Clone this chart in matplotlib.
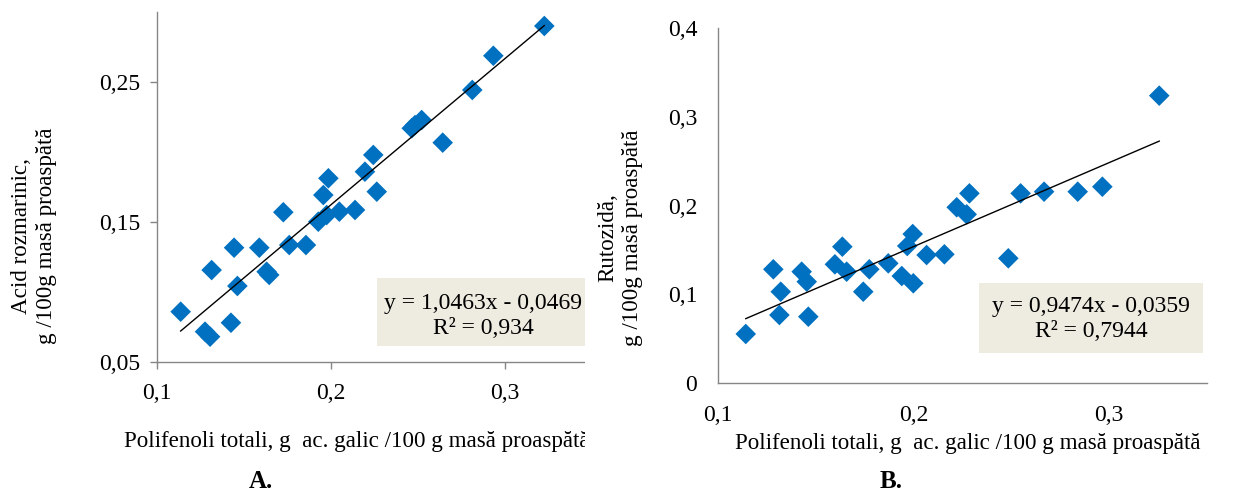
import numpy as np
import matplotlib
matplotlib.use("Agg")
import matplotlib.pyplot as plt
from matplotlib.patches import Rectangle
from matplotlib.transforms import Bbox, TransformedBbox

# ------------------- date -------------------
# A: polifenoli totali vs acid rozmarinic
x_a = [0.1136, 0.1276, 0.1305, 0.1314, 0.1425, 0.1443, 0.1462, 0.1588, 0.1630, 0.1645,
       0.1726, 0.1760, 0.1856, 0.1927, 0.1956, 0.1985, 0.1975, 0.2048, 0.2138, 0.2195,
       0.2243, 0.2263, 0.2464, 0.2521, 0.2483, 0.2642, 0.2812, 0.2933, 0.3226]
y_a = [0.0858, 0.0715, 0.0679, 0.1156, 0.0779, 0.1316, 0.1042, 0.1316, 0.1144, 0.1121,
       0.1570, 0.1335, 0.1335, 0.1502, 0.1693, 0.1813, 0.1550, 0.1574, 0.1586, 0.1860,
       0.1980, 0.1717, 0.2171, 0.2230, 0.2194, 0.2068, 0.2445, 0.2690, 0.2903]
slope_a, icpt_a = 1.0463, -0.0469
eq_a = "y = 1,0463x - 0,0469\nR² = 0,934"

# B: polifenoli totali vs rutozida
x_b = [0.1142, 0.1283, 0.1321, 0.1314, 0.1428, 0.1454, 0.1462, 0.1598, 0.1636, 0.1658,
       0.1743, 0.1774, 0.1871, 0.1940, 0.1999, 0.1968, 0.1996, 0.2067, 0.2158, 0.2221,
       0.2272, 0.2286, 0.2485, 0.2548, 0.2668, 0.2840, 0.2966, 0.3257]
y_b = [0.055, 0.128, 0.1027, 0.0764, 0.1253, 0.1140, 0.0745, 0.1336, 0.1535, 0.1253,
       0.1027, 0.1280, 0.1347, 0.1204, 0.1122, 0.1543, 0.1678, 0.1441, 0.1449, 0.1980,
       0.1900, 0.2137, 0.1404, 0.2137, 0.2156, 0.2156, 0.2212, 0.3240]
slope_b, icpt_b = 0.9474, -0.0359
eq_b = "y = 0,9474x - 0,0359\nR² = 0,7944"

xticks = [0.1, 0.2, 0.3]
yticks_a = [0.05, 0.15, 0.25]
yticks_b = [0, 0.1, 0.2, 0.3, 0.4]
xlabel = "Polifenoli totali, g  ac. galic /100 g masă proaspătă"
ylabel_a = "Acid rozmarinic,\ng /100g masă proaspătă"
ylabel_b = "Rutozidă,\ng /100g masă proaspătă"

# ------------------- stil -------------------
plt.rcParams["font.family"] = ["Liberation Serif", "DejaVu Serif"]
blue = "#0070C0"
gray = "#868686"
box_col = "#EEECE1"
fs = 17      # etichete axe / ecuatii
fs_lab = 16.6

W, H = 1243, 491
fig = plt.figure(figsize=(W / 100, H / 100), dpi=100)


def px_axes(l, r, t, b):
    return fig.add_axes([l / W, 1 - b / H, (r - l) / W, (b - t) / H])


def fmt(v):
    return f"{v:g}".replace(".", ",")


def style(ax, ticklen, xpad, ypad):
    for s in ["top", "right"]:
        ax.spines[s].set_visible(False)
    for s in ["left", "bottom"]:
        ax.spines[s].set_color(gray)
        ax.spines[s].set_linewidth(1.0)
    ax.tick_params(axis="both", direction="out", length=ticklen, color=gray, width=1.0,
                   labelsize=fs)
    ax.tick_params(axis="x", pad=xpad)
    ax.tick_params(axis="y", pad=ypad)


# ------------------- A -------------------
axA = px_axes(157, 157 + 0.25 * 1740, 361.7 - 0.25 * 1397, 361.7)
axA.scatter(x_a, y_a, marker="D", s=110, color=blue, edgecolors="none", zorder=3)
xx = np.array([min(x_a), max(x_a)])
axA.plot(xx, slope_a * xx + icpt_a, color="black", lw=1.0, zorder=4)
axA.set_xlim(0.1, 0.35)
axA.set_ylim(0.05, 0.30)
axA.set_xticks(xticks)
axA.set_xticklabels([fmt(v) for v in xticks])
axA.set_yticks(yticks_a)
axA.set_yticklabels([fmt(v) for v in yticks_a])
style(axA, 5, 10, 7)

# panoul A este taiat la dreapta in original
clipA = TransformedBbox(Bbox([[0, 0], [585 / W, 1]]), fig.transFigure)
axA.spines["bottom"].set_clip_box(clipA)
axA.spines["bottom"].set_clip_on(True)

recA = Rectangle((377 / W, 1 - 346 / H), 210 / W, 68 / H, transform=fig.transFigure,
                 facecolor=box_col, edgecolor="none", zorder=5)
recA.set_clip_box(clipA)
fig.patches.append(recA)
fig.text(483 / W, 1 - 316 / H, eq_a, ha="center", va="center", fontsize=fs,
         linespacing=1.25, zorder=6)

tA = fig.text(357 / W, 1 - 441 / H, xlabel, ha="center", va="center", fontsize=fs_lab)
tA.set_clip_box(clipA)
tA.set_clip_on(True)
fig.text(34 / W, 1 - 236 / H, ylabel_a, ha="center", va="center", rotation=90,
         fontsize=fs_lab, multialignment="center", linespacing=1.2)
fig.text(261 / W, 1 - 481 / H, "A.", ha="center", va="center", fontsize=fs + 1,
         fontweight="bold")

# ------------------- B -------------------
axB = px_axes(718, 718 + 0.25 * 1955, 382.7 - 0.4 * 886, 382.7)
axB.scatter(x_b, y_b, marker="D", s=110, color=blue, edgecolors="none", zorder=3)
xx = np.array([min(x_b), max(x_b)])
axB.plot(xx, slope_b * xx + icpt_b, color="black", lw=1.0, zorder=4)
axB.set_xlim(0.1, 0.35)
axB.set_ylim(0, 0.4)
axB.set_xticks(xticks)
axB.set_xticklabels([fmt(v) for v in xticks])
axB.set_yticks(yticks_b)
axB.set_yticklabels([fmt(v) for v in yticks_b])
style(axB, 0, 16, 15)

fig.patches.append(Rectangle((979 / W, 1 - 353 / H), 224 / W, 70 / H,
                             transform=fig.transFigure, facecolor=box_col,
                             edgecolor="none", zorder=5))
fig.text(1091 / W, 1 - 319 / H, eq_b, ha="center", va="center", fontsize=fs,
         linespacing=1.25, zorder=6)

fig.text(968 / W, 1 - 443 / H, xlabel, ha="center", va="center", fontsize=fs_lab)
fig.text(620 / W, 1 - 238 / H, ylabel_b, ha="center", va="center", rotation=90,
         fontsize=fs_lab, multialignment="center", linespacing=1.2)
fig.text(891 / W, 1 - 481 / H, "B.", ha="center", va="center", fontsize=fs + 1,
         fontweight="bold")

fig.savefig("out.png", dpi=100)
